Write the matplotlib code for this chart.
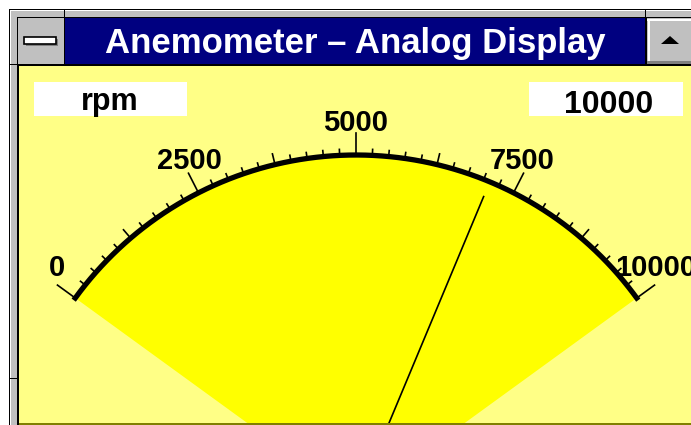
import matplotlib

matplotlib.use("Agg")
import matplotlib.pyplot as plt
import numpy as np
from matplotlib.patches import Polygon, Rectangle

# gauge data
TITLE = "Anemometer – Analog Display"
UNIT = "rpm"
SCALE_MIN = 0
SCALE_MAX = 10000
LABEL_VALUES = [0, 2500, 5000, 7500, 10000]
MINOR_STEP = 250      # small ticks
MID_STEP = 1250       # medium ticks
READING = 7100        # needle position

# layout, in screen pixels (y grows downward)
W, H = 691, 425
CX, CY = 356, 502     # gauge pivot (below the window)
R = 346
HALF = 54             # degrees either side of vertical

NAVY = "#000080"
FACE = "#c0c0c0"
DITHER = "#ffff86"
FONT = "Liberation Sans"


def angle(v, squeeze=1.0):
    frac = (v - SCALE_MIN) / (SCALE_MAX - SCALE_MIN)
    return np.radians((-HALF + 2 * HALF * frac) * squeeze)


def polar(r, v, squeeze=1.0):
    a = angle(v, squeeze)
    return CX + r * np.sin(a), CY - r * np.cos(a)


def box(ax, x0, y0, x1, y1, fc, z=1, **kw):
    ax.add_patch(Rectangle((x0, y0), x1 - x0, y1 - y0, facecolor=fc,
                           edgecolor="none", zorder=z, **kw))


fig = plt.figure(figsize=(W / 100, H / 100), dpi=100, facecolor="white")
ax = fig.add_axes([0, 0, 1, 1])
ax.set_xlim(0, W)
ax.set_ylim(H, 0)
ax.axis("off")

# window frame
box(ax, 9, 9, W, H, FACE)
box(ax, 9, 9, W, 10, "black")
box(ax, 9, 9, 10, H, "black")
box(ax, 10, 10, W, 11, "white")
box(ax, 10, 10, 11, H, "white")
for x in (64, 645):
    box(ax, x, 9, x + 1, 17, "black")
for y in (64, 378):
    box(ax, 9, y, 17, y + 1, "black")
box(ax, 17, 17, W, 18, "black")
box(ax, 17, 17, 19, H, "black")

# title bar
box(ax, 18, 18, 64, 64, FACE)
box(ax, 26, 39, 58, 46, "#808080", z=2)
ax.add_patch(Rectangle((24, 37), 32, 7, facecolor="white", edgecolor="black",
                       linewidth=1.2, zorder=3))
box(ax, 64, 18, 65, 64, "black")
box(ax, 65, 18, 645, 64, NAVY)
box(ax, 645, 18, 647, 64, "black")
box(ax, 647, 18, W, 64, FACE)
box(ax, 647, 19, W, 21, "white", z=2)
box(ax, 648, 19, 650, 64, "white", z=2)
box(ax, 647, 61, W, 64, "#808080", z=2)
ax.add_patch(Polygon([(661, 44), (679, 44), (670, 36)], closed=True,
                     facecolor="black", edgecolor="none", zorder=3))
ax.text(355, 53, TITLE, color="white", fontsize=25, fontweight="bold",
        family=FONT, ha="center", va="baseline", zorder=4)
box(ax, 17, 64, W, 66, "black")

# client area
box(ax, 19, 66, W, 423, DITHER)
box(ax, 19, 423, W, H, "#808000", z=6)

# dial face
vals = np.linspace(SCALE_MIN, SCALE_MAX, 240)
ax_, ay_ = polar(R, vals)
face = np.column_stack([np.r_[CX, ax_], np.r_[CY, ay_]])
ax.add_patch(Polygon(face, closed=True, facecolor="#ffff00",
                     edgecolor="none", zorder=2))
ax.plot(*polar(R + 1, vals), color="black", lw=3.8,
        solid_capstyle="projecting", zorder=4)

for v in range(SCALE_MIN, SCALE_MAX + 1, MINOR_STEP):
    if v % (2 * MID_STEP) == 0:
        ln = 21
    elif v % MID_STEP == 0:
        ln = 10
    else:
        ln = 5
    x0, y0 = polar(R + 2, v)
    x1, y1 = polar(R + 2 + ln, v)
    ax.plot([x0, x1], [y0, y1], color="black", lw=1.2, zorder=4)

for v in LABEL_VALUES:
    x, y = polar(382, v, squeeze=0.955)
    ax.text(x, y + 11, f"{v}", fontsize=21, fontweight="bold", family=FONT,
            ha="center", va="baseline", zorder=5)

# needle
nx, ny = polar(331, READING)
ax.plot([CX, nx], [CY, ny], color="black", lw=1.2, zorder=5)

# readout boxes
box(ax, 34, 82, 187, 116, "white", z=3)
box(ax, 529, 82, 683, 116, "white", z=3)
ax.text(110, 110, UNIT, fontsize=22, fontweight="bold", family=FONT,
        ha="center", va="baseline", zorder=5)
ax.text(653, 113, f"{SCALE_MAX}", fontsize=23, fontweight="bold", family=FONT,
        ha="right", va="baseline", zorder=5)

fig.savefig("out.png", dpi=100, facecolor="white")
